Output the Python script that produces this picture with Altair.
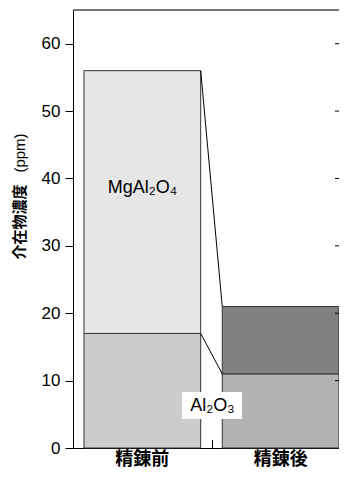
import altair as alt
import pandas as pd

# ---- data ----
categories = ["精錬前", "精錬後"]
al2o3 = [17, 11]          # ppm, lower segment
mgal2o4 = [39, 10]        # ppm, upper segment (totals 56, 21)
y_ticks = [0, 10, 20, 30, 40, 50, 60]
y_max = 65
seg_colors = {
    ("精錬前", "Al2O3"): "#cccccc",
    ("精錬前", "MgAl2O4"): "#e6e6e6",
    ("精錬後", "Al2O3"): "#b3b3b3",
    ("精錬後", "MgAl2O4"): "#808080",
}

W, H = 266, 438          # visible plot area
XR = 273                 # full x extent of the category axis
CJK = "Noto Sans CJK JP"
LAT = "Liberation Sans"

rows = []
for c, a, m in zip(categories, al2o3, mgal2o4):
    rows.append(dict(cat=c, comp="Al2O3", y0=0, y1=a, key=f"{c}|Al2O3"))
    rows.append(dict(cat=c, comp="MgAl2O4", y0=a, y1=a + m, key=f"{c}|MgAl2O4"))
bars = pd.DataFrame(rows)
keys = [f"{c}|{p}" for (c, p) in seg_colors]
cols = list(seg_colors.values())

links = pd.DataFrame({
    "cat": [categories[0], categories[0]],
    "to": [categories[1], categories[1]],
    "y0": [al2o3[0] + mgal2o4[0], al2o3[0]],
    "yb": [al2o3[1] + mgal2o4[1], al2o3[1]],
})

xscale = alt.Scale(domain=categories, paddingInner=0.156, paddingOuter=0.065, align=0.61,
                   range=[0, XR])
yscale = alt.Scale(domain=[0, y_max], nice=False, zero=True)

x_axis = alt.Axis(title=None, labelAngle=0, ticks=False, domainColor="black",
                  labelFont=CJK, labelFontSize=18, labelFontWeight="bold",
                  labelColor="black", labelPadding=2)
y_axis = alt.Axis(title=None, values=y_ticks, grid=False, domainColor="black",
                  tickColor="black", tickSize=8, labelFont=LAT, labelFontSize=17,
                  labelColor="black", labelPadding=5)

bar_layer = alt.Chart(bars).mark_bar(stroke="#333333", strokeWidth=1).encode(
    x=alt.X("cat:N", scale=xscale, sort=categories, axis=x_axis),
    y=alt.Y("y0:Q", scale=yscale, axis=y_axis),
    y2="y1",
    color=alt.Color("key:N", scale=alt.Scale(domain=keys, range=cols), legend=None),
)

link_layer = alt.Chart(links).mark_rule(color="black", strokeWidth=1).encode(
    x=alt.X("cat:N", bandPosition=1),
    x2=alt.X2("to:N", bandPosition=0),
    y=alt.Y("y0:Q"),
    y2="yb",
)

# inward tick marks on the right edge
right_ticks = alt.Chart(pd.DataFrame({"y0": y_ticks[1:]})).mark_rule(color="black", strokeWidth=1).encode(
    x=alt.value(W - 4), x2=alt.value(W), y=alt.Y("y0:Q")
)
# category separator tick on the x axis
mid_tick = alt.Chart(pd.DataFrame({"a": [0]})).mark_rule(color="black", strokeWidth=1).encode(
    x=alt.value(139.5), y=alt.value(H - 8), y2=alt.value(H)
)

frame_top = alt.Chart(pd.DataFrame({"a": [0]})).mark_rule(color="black", strokeWidth=1).encode(
    x=alt.value(0), x2=alt.value(W), y=alt.value(0)
)

mg_label = alt.Chart(pd.DataFrame({"cat": [categories[0]], "y0": [38.6], "t": ["MgAl₂O₄"]})).mark_text(
    font=LAT, fontSize=18, color="black"
).encode(x=alt.X("cat:N"), y=alt.Y("y0:Q"), text="t:N")

al_box = alt.Chart(pd.DataFrame({"a": [0]})).mark_rect(color="white").encode(
    x=alt.value(109), x2=alt.value(169), y=alt.value(382), y2=alt.value(409)
)
al_label = alt.Chart(pd.DataFrame({"y0": [6.3], "t": ["Al₂O₃"]})).mark_text(
    font=LAT, fontSize=18, color="black"
).encode(x=alt.value(139.5), y=alt.Y("y0:Q"), text="t:N")

title_jp = alt.Chart(pd.DataFrame({"t": ["介在物濃度"]})).mark_text(
    font=CJK, fontSize=15, fontWeight="bold", angle=270, color="black"
).encode(x=alt.value(-53.5), y=alt.value(212), text="t:N")
title_unit = alt.Chart(pd.DataFrame({"t": ["(ppm)"]})).mark_text(
    font=LAT, fontSize=15, angle=270, color="black"
).encode(x=alt.value(-53.5), y=alt.value(143), text="t:N")

chart = alt.layer(
    bar_layer, link_layer, right_ticks, mid_tick, frame_top, mg_label, al_box, al_label,
    title_jp, title_unit
).properties(
    width=W, height=H, autosize="none",
    padding={"left": 65, "top": 2, "right": 0, "bottom": 21},
).configure_view(stroke=None).configure(background="white")

chart.save("out.html", embed_options={"renderer": "svg", "actions": False})
